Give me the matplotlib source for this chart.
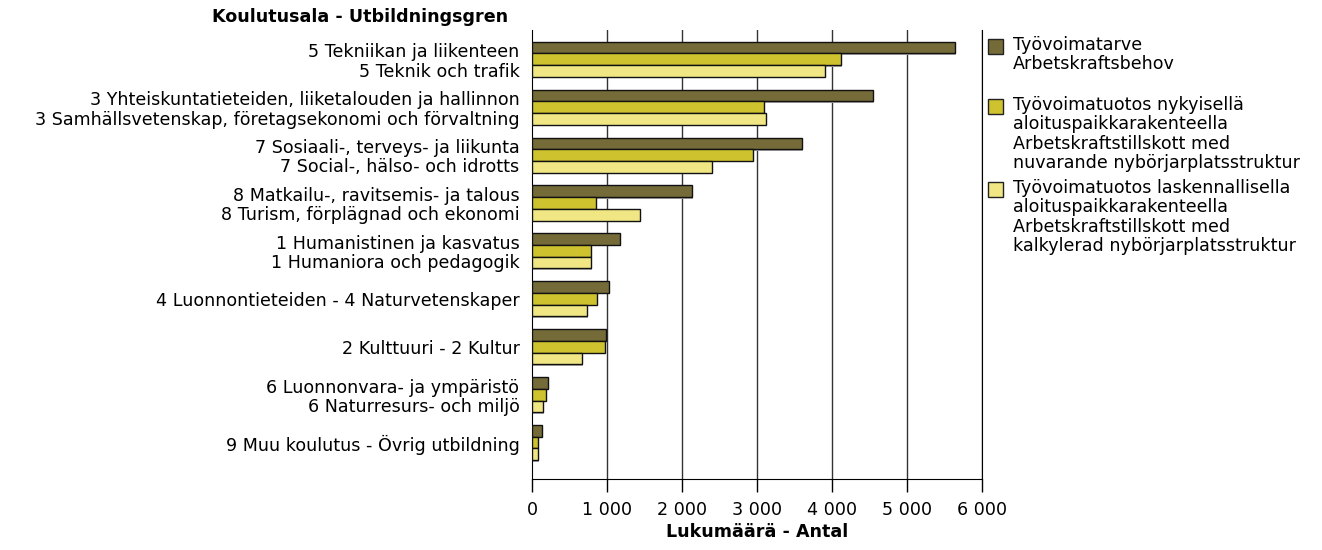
import matplotlib.pyplot as plt
import matplotlib.patches as mpatches
from matplotlib.ticker import FuncFormatter

categories = [
    "5 Tekniikan ja liikenteen\n5 Teknik och trafik",
    "3 Yhteiskuntatieteiden, liiketalouden ja hallinnon\n3 Samhällsvetenskap, företagsekonomi och förvaltning",
    "7 Sosiaali-, terveys- ja liikunta\n7 Social-, hälso- och idrotts",
    "8 Matkailu-, ravitsemis- ja talous\n8 Turism, förplägnad och ekonomi",
    "1 Humanistinen ja kasvatus\n1 Humaniora och pedagogik",
    "4 Luonnontieteiden - 4 Naturvetenskaper",
    "2 Kulttuuri - 2 Kultur",
    "6 Luonnonvara- ja ympäristö\n6 Naturresurs- och miljö",
    "9 Muu koulutus - Övrig utbildning",
]
tarve = [5635, 4542, 3600, 2128, 1168, 1022, 982, 208, 128]
tuotos_nyk = [4115, 3089, 2942, 848, 791, 871, 968, 186, 84]
tuotos_lask = [3901, 3120, 2404, 1435, 782, 728, 662, 142, 84]

series_names = [
    "Työvoimatarve\nArbetskraftsbehov",
    "Työvoimatuotos nykyisellä\naloituspaikkarakenteella\nArbetskraftstillskott med\nnuvarande nybörjarplatsstruktur",
    "Työvoimatuotos laskennallisella\naloituspaikkarakenteella\nArbetskraftstillskott med\nkalkylerad nybörjarplatsstruktur",
]
colors = ["#756B38", "#CFC22F", "#F0E784"]

plt.rcParams['font.family'] = ['DejaVu Sans']
fs = 12.6
ls = 1.1

W, H = 1322, 550
fig = plt.figure(figsize=(W / 100, H / 100), dpi=100)
ax = fig.add_axes([532 / W, 1 - 479 / H, 450 / W, 449 / H])

h = 0.244
ys = list(range(len(categories)))
for k, vals in enumerate([tarve, tuotos_nyk, tuotos_lask]):
    pos = [y + (k - 1) * h for y in ys]
    # little grey shadow like the original
    ax.barh([p + 0.03 for p in pos], vals, height=h, left=12, color="#aaaaaa",
            edgecolor="none", zorder=2)
    ax.barh(pos, vals, height=h, color=colors[k], edgecolor="#111111",
            linewidth=1.0, zorder=3)

ax.set_xlim(0, 6000)
ax.set_ylim(8.76, -0.61)
ax.set_yticks(ys)
ax.set_yticklabels(categories, fontsize=fs, linespacing=ls)
ax.tick_params(axis="y", length=0, pad=9)
ax.set_xticks(range(0, 6001, 1000))
ax.xaxis.set_major_formatter(FuncFormatter(lambda v, p: f"{int(v):,}".replace(",", " ")))
ax.tick_params(axis="x", length=9, width=1, labelsize=fs, pad=7)
ax.set_xlabel("Lukumäärä - Antal", fontsize=fs, fontweight="bold", labelpad=3)

for x in range(1000, 6001, 1000):
    ax.axvline(x, color="#333333", linewidth=1, zorder=1)
ax.spines["top"].set_visible(False)
ax.spines["right"].set_visible(True)

fig.text(508 / W, 1 - 17 / H, "Koulutusala - Utbildningsgren", ha="right",
         va="center", fontsize=fs, fontweight="bold")

# legend built by hand so the box sits at the first text line
legend_tops = [36, 96, 179]
for name, c, top in zip(series_names, colors, legend_tops):
    fig.add_artist(mpatches.Rectangle((988 / W, 1 - (top + 18) / H), 15 / W, 15 / H,
                                      transform=fig.transFigure, facecolor=c,
                                      edgecolor="#222222", linewidth=1))
    fig.text(1013 / W, 1 - top / H, name, ha="left", va="top", fontsize=fs,
             linespacing=ls)

fig.savefig("out.png", dpi=100)
